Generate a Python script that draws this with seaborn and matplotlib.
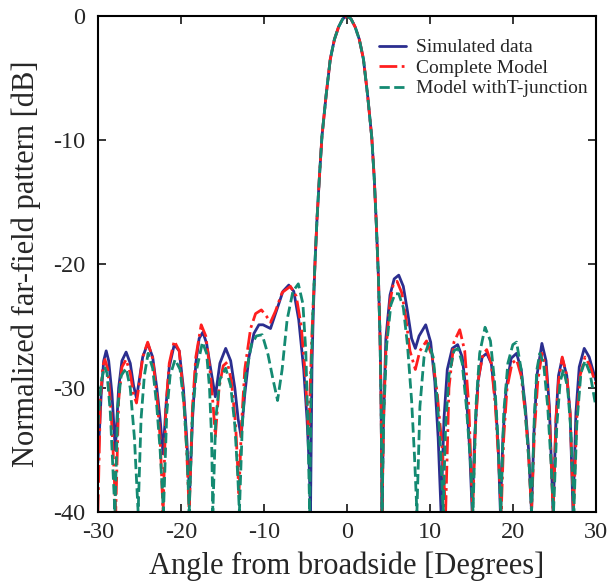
import numpy as np
import pandas as pd
import seaborn as sns
import matplotlib.pyplot as plt

# values (angle in degrees, level in dB)
sim_angle = [-30.0, -29.6, -29.3, -29.0, -28.7, -28.3, -27.9, -27.5, -27.1, -26.6,
             -26.1, -25.7, -25.35, -25.0, -24.6, -24.0, -23.4, -22.9, -22.5, -22.15,
             -21.8, -21.4, -20.8, -20.2, -19.7, -19.3, -18.95, -18.6, -18.2, -17.8,
             -17.35, -16.9, -16.4, -15.85, -15.3, -14.6, -14.0, -13.5, -13.1, -12.75,
             -12.3, -11.8, -11.2, -10.6, -10.1, -9.2, -8.5, -7.7, -7.0, -6.4,
             -5.8, -5.2, -4.8, -4.55, -4.38, -4.2, -4.05, -3.85, -3.6, -3.3,
             -3.0, -2.5, -2.0, -1.5, -1.0, -0.5, 0.0, 0.5, 1.0, 1.5,
             2.0, 2.5, 3.0, 3.3, 3.55, 3.8, 4.0, 4.12, 4.24, 4.4,
             4.7, 5.2, 5.7, 6.25, 6.8, 7.3, 7.8, 8.25, 8.7, 9.5,
             10.1, 10.6, 11.0, 11.35, 11.7, 12.1, 12.7, 13.35, 13.9, 14.4,
             14.8, 15.1, 15.4, 15.8, 16.3, 16.85, 17.4, 17.9, 18.25, 18.5,
             18.8, 19.2, 19.8, 20.45, 21.0, 21.5, 21.9, 22.25, 22.55, 22.9,
             23.5, 24.0, 24.4, 24.85, 25.2, 25.5, 25.95, 26.5, 26.9, 27.25,
             27.6, 28.0, 28.6, 29.2, 29.7, 30.0]
sim_db = [-36.0, -30.5, -27.8, -27.0, -27.8, -30.5, -35.0, -30.0, -27.8, -27.1,
          -28.0, -29.8, -30.8, -29.3, -27.5, -26.4, -27.5, -30.0, -32.5, -35.3,
          -31.5, -28.3, -26.5, -27.0, -30.0, -34.0, -38.5, -32.5, -28.0, -26.0,
          -25.5, -26.4, -28.5, -30.7, -28.0, -26.8, -27.8, -30.0, -32.5, -33.9,
          -30.5, -27.5, -25.6, -24.9, -24.9, -25.2, -23.8, -22.2, -21.7, -22.2,
          -24.5, -28.5, -32.5, -36.0, -40.0, -28.0, -24.0, -20.0, -16.4, -12.9,
          -9.7, -6.4, -3.5, -1.9, -0.9, -0.25, 0.0, -0.25, -0.9, -1.9,
          -3.5, -6.4, -9.8, -13.1, -16.8, -21.0, -26.0, -31.0, -40.0, -33.0,
          -26.0, -22.5, -21.2, -20.9, -21.8, -23.8, -26.0, -26.8, -25.8, -24.9,
          -26.3, -29.5, -34.0, -40.0, -32.5, -28.5, -26.8, -26.5, -27.5, -30.5,
          -35.0, -40.0, -34.0, -29.5, -27.5, -27.2, -28.0, -31.0, -35.0, -40.0,
          -34.0, -30.0, -27.6, -27.2, -28.5, -31.5, -35.0, -40.0, -33.5, -29.0,
          -26.4, -27.8, -31.5, -40.0, -32.5, -29.0, -27.6, -29.0, -32.0, -40.0,
          -32.0, -28.3, -26.8, -27.5, -28.7, -29.4]

full_angle = [-30.0, -29.7, -29.4, -29.15, -28.8, -28.4, -28.1, -27.85, -27.5, -27.1,
              -26.6, -26.1, -25.7, -25.35, -25.0, -24.6, -24.0, -23.4, -22.9, -22.5,
              -22.15, -21.8, -21.4, -20.8, -20.2, -19.7, -19.3, -19.0, -18.6, -18.2,
              -17.55, -17.0, -16.5, -16.1, -15.85, -15.4, -14.9, -14.4, -13.9, -13.4,
              -13.0, -12.7, -12.3, -11.6, -11.0, -10.3, -9.7, -9.2, -8.6, -7.8,
              -6.8, -6.1, -5.5, -5.0, -4.6, -4.4, -4.2, -4.0, -3.8, -3.6,
              -3.3, -3.0, -2.5, -2.0, -1.5, -1.0, -0.5, 0.0, 0.5, 1.0,
              1.5, 2.0, 2.5, 3.0, 3.3, 3.55, 3.8, 4.0, 4.12, 4.24,
              4.4, 4.7, 5.2, 5.6, 6.05, 6.6, 7.1, 7.6, 8.25, 8.8,
              9.6, 10.3, 10.9, 11.5, 11.9, 12.3, 12.9, 13.6, 14.2, 14.7,
              15.15, 15.5, 15.9, 16.4, 16.85, 17.4, 17.9, 18.3, 18.6, 18.9,
              19.3, 19.9, 20.45, 21.0, 21.5, 21.9, 22.25, 22.6, 23.0, 23.5,
              24.0, 24.4, 24.85, 25.2, 25.5, 25.95, 26.5, 26.9, 27.3, 27.7,
              28.1, 28.7, 29.3, 30.0]
full_db = [-40.0, -31.0, -28.2, -27.7, -28.5, -32.0, -36.0, -40.0, -31.0, -28.3,
           -27.7, -28.8, -30.5, -31.2, -29.6, -27.5, -26.3, -27.6, -30.5, -34.0,
           -40.0, -31.5, -28.0, -26.2, -27.0, -30.5, -35.0, -40.0, -31.5, -27.5,
           -24.9, -25.8, -28.5, -31.5, -33.9, -30.0, -28.2, -27.9, -29.5, -33.0,
           -38.5, -33.0, -28.5, -25.2, -24.0, -23.7, -24.2, -24.7, -23.8, -22.3,
           -21.8, -22.6, -25.0, -29.0, -33.9, -29.5, -25.5, -22.5, -19.5, -16.4,
           -12.9, -9.7, -6.4, -3.5, -1.9, -0.9, -0.25, 0.0, -0.25, -0.9,
           -1.9, -3.5, -6.4, -9.8, -13.1, -16.8, -21.0, -26.0, -31.0, -40.0,
           -33.0, -27.0, -23.0, -21.6, -21.4, -22.3, -24.3, -27.0, -28.5, -27.0,
           -26.2, -27.5, -30.5, -35.0, -40.0, -30.0, -26.3, -25.3, -27.0, -31.5,
           -40.0, -33.0, -29.0, -27.3, -26.9, -28.0, -31.5, -36.0, -40.0, -34.0,
           -30.0, -28.0, -27.7, -29.0, -32.0, -35.5, -40.0, -33.5, -29.5, -27.2,
           -28.3, -32.0, -40.0, -32.5, -29.5, -27.5, -29.0, -32.0, -40.0, -32.5,
           -29.0, -27.5, -28.2, -29.7]

tj_angle = [-30.0, -29.6, -29.2, -28.9, -28.5, -28.15, -27.95, -27.6, -27.2, -26.6,
            -26.1, -25.6, -25.15, -24.8, -24.4, -23.95, -23.4, -22.9, -22.5, -22.1,
            -21.7, -21.3, -20.7, -20.1, -19.6, -19.25, -19.0, -18.6, -18.1, -17.4,
            -16.9, -16.55, -16.3, -16.15, -15.8, -15.3, -14.6, -14.0, -13.5, -13.15,
            -12.95, -12.6, -12.2, -11.5, -10.9, -10.2, -9.5, -8.9, -8.35, -7.8,
            -7.2, -6.5, -5.85, -5.3, -4.95, -4.7, -4.48, -4.3, -4.1, -3.85,
            -3.6, -3.3, -3.0, -2.5, -2.0, -1.5, -1.0, -0.5, 0.0, 0.5,
            1.0, 1.5, 2.0, 2.5, 3.0, 3.3, 3.55, 3.8, 4.0, 4.12,
            4.24, 4.45, 4.8, 5.3, 5.8, 6.25, 6.8, 7.3, 7.8, 8.15,
            8.44, 8.8, 9.3, 9.85, 10.4, 10.9, 11.3, 11.6, 11.9, 12.3,
            12.9, 13.4, 13.9, 14.4, 14.9, 15.2, 15.55, 16.0, 16.65, 17.3,
            17.8, 18.2, 18.55, 18.9, 19.4, 20.0, 20.45, 21.0, 21.5, 21.95,
            22.25, 22.6, 22.9, 23.25, 23.7, 24.2, 24.6, 24.9, 25.3, 25.7,
            26.1, 26.6, 27.0, 27.35, 27.7, 28.2, 28.7, 29.3, 30.0]
tj_db = [-33.0, -29.5, -28.3, -28.8, -32.0, -37.0, -40.0, -31.5, -29.0, -28.4,
         -30.0, -34.0, -40.0, -32.5, -29.0, -27.2, -28.4, -31.5, -35.0, -40.0,
         -32.0, -29.0, -27.7, -28.5, -31.5, -35.5, -40.0, -32.0, -28.5, -26.3,
         -27.2, -30.0, -34.0, -40.0, -32.5, -29.3, -28.4, -29.8, -33.0, -37.0,
         -40.0, -33.0, -29.0, -26.5, -25.8, -25.7, -27.3, -29.3, -31.0, -28.5,
         -24.5, -22.2, -21.6, -23.2, -27.0, -33.0, -40.0, -29.0, -24.0, -20.0,
         -16.4, -12.9, -9.7, -6.4, -3.5, -1.9, -0.9, -0.25, 0.0, -0.25,
         -0.9, -1.9, -3.5, -6.4, -9.8, -13.1, -16.8, -21.0, -26.0, -31.0,
         -40.0, -32.0, -26.5, -23.3, -22.4, -22.4, -23.5, -26.5, -31.0, -35.5,
         -40.0, -31.5, -27.5, -26.4, -27.5, -31.0, -35.0, -40.0, -33.0, -29.0,
         -27.0, -26.8, -28.0, -31.5, -36.0, -40.0, -31.5, -27.2, -25.1, -26.2,
         -29.5, -34.0, -40.0, -32.0, -28.0, -26.5, -26.3, -28.5, -32.0, -36.0,
         -40.0, -32.0, -28.5, -27.2, -28.0, -31.5, -36.0, -40.0, -33.0, -29.5,
         -28.5, -30.0, -33.5, -40.0, -33.0, -28.8, -27.8, -28.8, -31.5]

labels = ['Simulated data', 'Complete Model', 'Model withT-junction']
colors = ['#2B2E8F', '#FF1F1F', '#148A72']
styles = ['-', '-.', '--']

sns.set_style('ticks')
plt.rcParams['font.family'] = ['Liberation Serif', 'DejaVu Serif']
plt.rcParams['axes.unicode_minus'] = False

fig = plt.figure(figsize=(6.08, 5.86), dpi=100)
ax = fig.add_axes([0.161, 0.126, 0.819, 0.847])

series = [(sim_angle, sim_db), (full_angle, full_db), (tj_angle, tj_db)]
for (xs, ys), lab, col, ls in zip(series, labels, colors, styles):
    sns.lineplot(x=xs, y=ys, ax=ax, color=col, linestyle=ls, linewidth=2.0,
                 label=lab, sort=False, estimator=None)

ax.set_xlim(-30, 30)
ax.set_ylim(-40, 0)
ax.set_xticks([-30, -20, -10, 0, 10, 20, 30])
ax.set_yticks([0, -10, -20, -30, -40])
ax.tick_params(direction='in', top=True, right=True, length=6, width=1.3,
               labelsize=17.5)
ax.tick_params(axis='x', pad=7)
ax.tick_params(axis='y', pad=9)
for s in ax.spines.values():
    s.set_linewidth(1.5)
    s.set_color('black')
ax.set_xlabel('Angle from broadside [Degrees]', fontsize=22, labelpad=6)
ax.set_ylabel('Normalized far-field pattern [dB]', fontsize=22, labelpad=9)

leg = ax.legend(loc='upper right', bbox_to_anchor=(1.015, 0.985), fontsize=14,
                handlelength=1.4, handletextpad=0.5, labelspacing=0.15,
                frameon=True, fancybox=False, borderpad=0.3)
leg.get_frame().set_edgecolor('none')
leg.get_frame().set_facecolor('white')
leg.get_frame().set_alpha(1.0)

fig.savefig('out.png', dpi=100)
